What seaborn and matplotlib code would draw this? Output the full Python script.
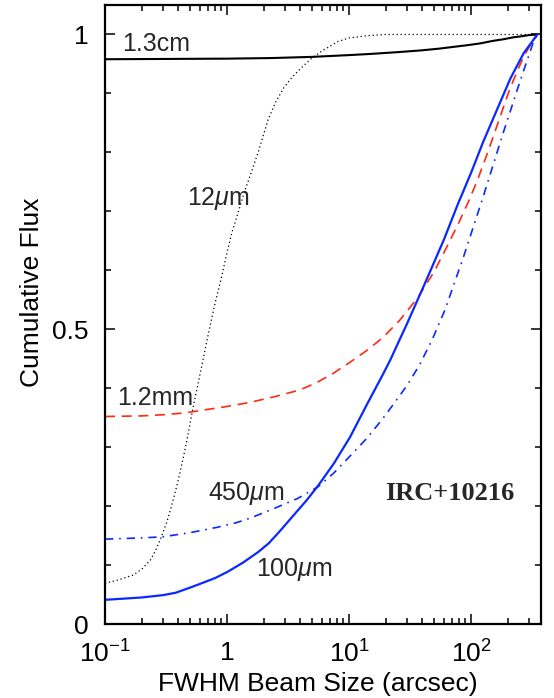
import numpy as np
import pandas as pd
import seaborn as sns
import matplotlib
matplotlib.use('Agg')
import matplotlib.pyplot as plt
from matplotlib.ticker import FixedLocator, NullFormatter, LogLocator

# beam size (arcsec) and cumulative flux
x_13cm = [0.1, 1.0, 2.3, 5.0, 10, 15, 25, 39, 55, 72, 95, 120, 150, 186, 220, 260, 300, 350]
y_13cm = [0.958, 0.959, 0.960, 0.962, 0.965, 0.967, 0.970, 0.973, 0.976, 0.979, 0.982,
          0.985, 0.989, 0.992, 0.995, 0.997, 0.999, 1.0]

x_12um = [0.1, 0.13, 0.17, 0.2, 0.235, 0.26, 0.29, 0.32, 0.35, 0.38, 0.41, 0.44, 0.47,
          0.53, 0.61, 0.7, 0.8, 0.89, 1.0, 1.1, 1.23, 1.4, 1.57, 1.8, 2.17, 2.5, 2.93,
          3.4, 4.0, 4.9, 6.0, 8.1, 10, 14.3, 20, 350]
y_12um = [0.069, 0.075, 0.083, 0.093, 0.108, 0.125, 0.148, 0.172, 0.199, 0.227, 0.255,
          0.284, 0.312, 0.37, 0.43, 0.49, 0.545, 0.583, 0.63, 0.665, 0.697, 0.735, 0.764,
          0.80, 0.855, 0.885, 0.910, 0.927, 0.942, 0.959, 0.972, 0.988, 0.994, 0.998, 1.0, 1.0]

x_12mm = [0.1, 0.2, 0.3, 0.45, 0.6, 1.0, 1.55, 2.5, 3.96, 5.5, 7.4, 10.2, 14, 19, 26,
          36.8, 50, 63.5, 80, 98, 114, 140, 173, 210, 268, 322, 350]
y_12mm = [0.352, 0.353, 0.355, 0.358, 0.362, 0.369, 0.376, 0.386, 0.397, 0.41, 0.425,
          0.444, 0.464, 0.486, 0.515, 0.554, 0.598, 0.64, 0.682, 0.722, 0.755, 0.805, 0.86,
          0.91, 0.961, 0.99, 1.0]

x_450um = [0.1, 0.2, 0.3, 0.5, 0.83, 1.2, 1.57, 2.5, 3.8, 5.6, 7.5, 10, 14, 18.7, 23, 30,
           38, 48, 61, 86, 126, 183, 252, 322, 350]
y_450um = [0.144, 0.146, 0.148, 0.155, 0.164, 0.172, 0.180, 0.197, 0.213, 0.233, 0.256,
           0.283, 0.315, 0.347, 0.372, 0.405, 0.44, 0.482, 0.532, 0.62, 0.725, 0.832, 0.92,
           0.985, 1.0]

x_100um = [0.1, 0.2, 0.3, 0.38, 0.48, 0.6, 0.8, 1.0, 1.35, 1.8, 2.2, 2.7, 3.5, 4.5, 5.6,
           7.5, 10.2, 14, 18.6, 21.7, 30, 43, 60, 78, 100, 126, 160, 210, 270, 350]
y_100um = [0.041, 0.045, 0.049, 0.053, 0.0605, 0.068, 0.078, 0.088, 0.104, 0.122, 0.137,
           0.157, 0.184, 0.210, 0.235, 0.272, 0.317, 0.372, 0.42, 0.447, 0.51, 0.583,
           0.652, 0.712, 0.765, 0.818, 0.868, 0.925, 0.968, 1.0]

sns.set_theme(style='ticks')
plt.rcParams['font.family'] = ['Liberation Sans', 'DejaVu Sans']
plt.rcParams['mathtext.fontset'] = 'custom'
plt.rcParams['mathtext.rm'] = 'Liberation Sans'
plt.rcParams['mathtext.it'] = 'Liberation Sans:italic'

fig = plt.figure(figsize=(5.54, 6.98), dpi=100)
ax = fig.add_axes([105/554, 74/698, 436/554, 619/698])

blue = '#0a28ff'
red = '#ff2a10'
sns.lineplot(x=x_13cm, y=y_13cm, ax=ax, color='black', linewidth=1.5, estimator=None)
sns.lineplot(x=x_12um, y=y_12um, ax=ax, color='black', linewidth=0.9, estimator=None,
             linestyle=(0, (1, 2.2)))
sns.lineplot(x=x_12mm, y=y_12mm, ax=ax, color=red, linewidth=1.2, estimator=None,
             linestyle=(0, (6, 4)))
sns.lineplot(x=x_450um, y=y_450um, ax=ax, color=blue, linewidth=1.2, estimator=None,
             linestyle=(0, (5, 3.5, 1, 3.5)))
sns.lineplot(x=x_100um, y=y_100um, ax=ax, color=blue, linewidth=1.6, estimator=None)

ax.set_xscale('log')
ax.set_xlim(0.1, 375)
ax.set_ylim(0, 1.05)

ax.set_xticks([0.1, 1, 10, 100])
ax.set_xticklabels(['$10^{-1}$', '1', '$10^{1}$', '$10^{2}$'])
ax.xaxis.set_minor_locator(LogLocator(base=10, subs=np.arange(2, 10)))
ax.xaxis.set_minor_formatter(NullFormatter())
ax.set_yticks([0, 0.5, 1])
ax.set_yticklabels(['0', '0.5', '1'])
ax.yaxis.set_minor_locator(FixedLocator(np.arange(0.1, 1.05, 0.1)))

ax.tick_params(which='both', direction='in', top=True, right=True, color='black',
               labelsize=19, labelcolor='black')
ax.tick_params(which='major', length=7.5, width=1.1, pad=12)
ax.tick_params(which='minor', length=4.5, width=1.1)
for sp in ax.spines.values():
    sp.set_linewidth(1.6)
    sp.set_color('black')
ax.grid(False)
ax.set_facecolor('white')

ax.set_xlabel('FWHM Beam Size (arcsec)', fontsize=19, color='black')
ax.set_ylabel('Cumulative Flux', fontsize=19, color='black')
ax.xaxis.set_label_coords(0.489, -0.077)
ax.yaxis.set_label_coords(-0.14, 0.536)

ts = 18
ax.text(0.138, 0.983, '1.3cm', fontsize=ts, va='center', ha='left')
ax.text(0.47, 0.722, r'12$\mu$m', fontsize=ts, va='center', ha='left')
ax.text(0.125, 0.383, '1.2mm', fontsize=ts, va='center', ha='left')
ax.text(0.70, 0.222, r'450$\mu$m', fontsize=ts, va='center', ha='left')
ax.text(1.73, 0.092, r'100$\mu$m', fontsize=ts, va='center', ha='left')
ax.text(19.7, 0.222, 'IRC+10216', fontsize=19, va='center', ha='left',
        family=['Liberation Serif', 'DejaVu Serif'], fontweight='bold')

fig.savefig('out.png', dpi=100, facecolor='white')
